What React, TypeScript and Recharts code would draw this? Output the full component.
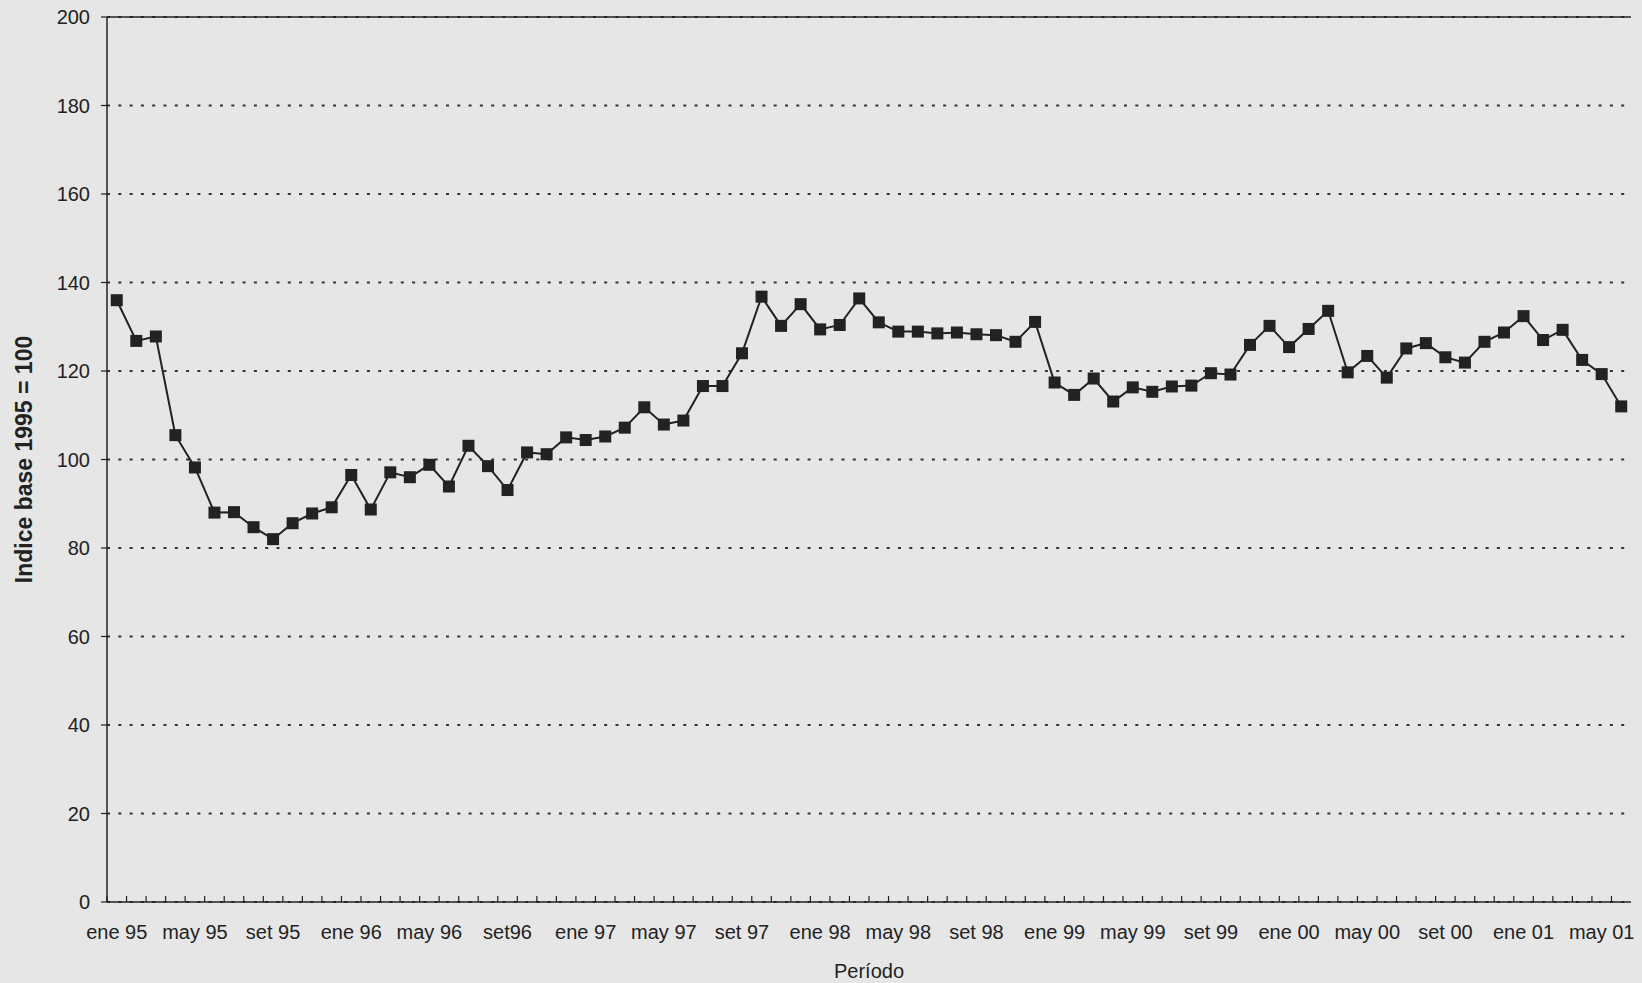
import React from "react";
import { LineChart, Line, XAxis, YAxis, CartesianGrid, ReferenceLine } from "recharts";

// índice mensual, ene 95 .. jun 01
const valores = [
  136.0, 126.8, 127.8, 105.5, 98.2, 88.0, 88.1, 84.7, 82.0, 85.6,
  87.8, 89.2, 96.5, 88.7, 97.1, 96.0, 98.8, 93.9, 103.1, 98.5,
  93.1, 101.6, 101.2, 105.0, 104.4, 105.2, 107.2, 111.8, 107.9, 108.8,
  116.6, 116.6, 124.0, 136.8, 130.2, 135.1, 129.4, 130.4, 136.4, 131.0,
  128.9, 128.9, 128.5, 128.7, 128.3, 128.1, 126.6, 131.1, 117.4, 114.6,
  118.3, 113.1, 116.3, 115.3, 116.5, 116.7, 119.5, 119.2, 125.9, 130.2,
  125.4, 129.5, 133.6, 119.7, 123.4, 118.5, 125.1, 126.3, 123.1, 121.9,
  126.6, 128.7, 132.4, 127.0, 129.3, 122.5, 119.3, 112.0,
];

const meses = ["ene", "feb", "mar", "abr", "may", "jun", "jul", "ago", "set", "oct", "nov", "dic"];
const anios = ["95", "96", "97", "98", "99", "00", "01"];

const etiquetas = [
  "ene 95", "may 95", "set 95", "ene 96", "may 96", "set96", "ene 97",
  "may 97", "set 97", "ene 98", "may 98", "set 98", "ene 99", "may 99",
  "set 99", "ene 00", "may 00", "set 00", "ene 01", "may 01",
];

const yTicks = [0, 20, 40, 60, 80, 100, 120, 140, 160, 180, 200];

const categorias: string[] = [];
anios.forEach((a) => meses.forEach((m) => categorias.push(m + " " + a)));

const data = valores.map((v, i) => ({ periodo: categorias[i], indice: v }));

const INK = "#222";
const FONT = "'Liberation Sans', Arial, sans-serif";

const XTick = (props: any) => {
  const { x, y, payload } = props;
  const idx = payload.index;
  const off = payload.offset || 1524 / valores.length / 2;
  return (
    <g>
      <line x1={x - off} x2={x - off} y1={y} y2={y - 6} stroke={INK} strokeWidth={1.2} />
      {idx % 4 === 0 && (
        <text x={x} y={y + 37} textAnchor="middle" fontSize={20} fill={INK} fontFamily={FONT}>
          {etiquetas[idx / 4]}
        </text>
      )}
    </g>
  );
};

const SquareDot = (props: any) => {
  const { cx, cy, index } = props;
  if (cx == null || cy == null) return <g key={index} />;
  return <rect key={index} x={cx - 6} y={cy - 6} width={12} height={12} fill={INK} />;
};

export default function App() {
  return (
    <div
      style={{
        position: "absolute",
        left: 0,
        top: 0,
        width: 1642,
        height: 983,
        background: "#e6e6e6",
        fontFamily: FONT,
      }}
    >
      <LineChart
        width={1642}
        height={983}
        data={data}
        margin={{ top: 17, right: 11, left: 0, bottom: 0 }}
      >
        <CartesianGrid
          horizontal
          vertical={false}
          stroke="#333"
          strokeWidth={2}
          strokeDasharray="3 8.3"
        />
        <XAxis
          dataKey="periodo"
          scale="band"
          interval={0}
          height={81}
          tickSize={0}
          tickMargin={0}
          tick={<XTick />}
          axisLine={{ stroke: INK, strokeWidth: 1.5 }}
          label={{
            value: "Período",
            position: "center",
            dy: 28,
            style: { fontSize: 20, fill: INK, fontFamily: FONT },
          }}
        />
        <YAxis
          domain={[0, 200]}
          ticks={yTicks}
          width={107}
          tickSize={6}
          tickMargin={11}
          interval={0}
          tick={{ fontSize: 20, fill: INK, fontFamily: FONT }}
          tickLine={{ stroke: INK, strokeWidth: 1.2 }}
          axisLine={{ stroke: INK, strokeWidth: 1.5 }}
          label={{
            value: "Indice base 1995 = 100",
            angle: -90,
            position: "center",
            dx: -30,
            style: { fontSize: 23, fontWeight: "bold", fill: INK, fontFamily: FONT },
          }}
        />
        <YAxis
          yAxisId="borde"
          orientation="right"
          width={0}
          tick={false}
          tickLine={false}
          axisLine={{ stroke: INK, strokeWidth: 1.5 }}
        />
        <ReferenceLine y={200} stroke={INK} strokeWidth={1.5} />
        <Line
          type="linear"
          dataKey="indice"
          stroke={INK}
          strokeWidth={2}
          dot={<SquareDot />}
          activeDot={false}
          isAnimationActive={false}
        />
      </LineChart>
    </div>
  );
}
